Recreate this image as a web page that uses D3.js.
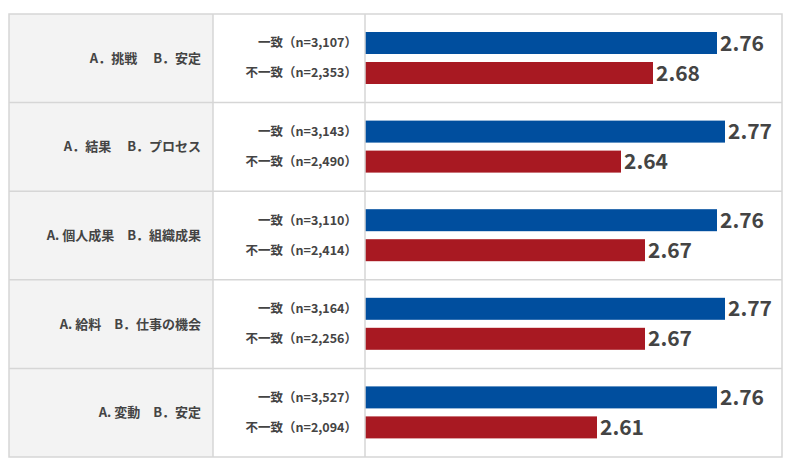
<!DOCTYPE html><html><head><meta charset="utf-8"><script src="https://cdn.jsdelivr.net/npm/d3@7"></script>
<style>body{margin:0;background:#fff}text{font-family:"Noto Sans CJK JP","Noto Sans",sans-serif}</style></head><body><svg id="c" width="790" height="474"></svg>
<script>
const categories=["A．挑戦　 B．安定","A．結果　 B．プロセス","A. 個人成果　B．組織成果","A. 給料　B．仕事の機会","A. 変動　B．安定"];
const matchLabels=["一致（n=3,107）","一致（n=3,143）","一致（n=3,110）","一致（n=3,164）","一致（n=3,527）"];
const mismatchLabels=["不一致（n=2,353）","不一致（n=2,490）","不一致（n=2,414）","不一致（n=2,256）","不一致（n=2,094）"];
const matchValues=[2.76,2.77,2.76,2.77,2.76];
const mismatchValues=[2.68,2.64,2.67,2.67,2.61];
const svg=d3.select("#c");
const L=9,R=782,T=14,B=457,c1=213,c2=365;
const y=d3.scaleBand().domain(d3.range(categories.length)).range([T,B]);
const x=d3.scaleLinear().domain([2.32,2.77]).range([c2,c2+360]);
svg.append("rect").attr("x",L).attr("y",T).attr("width",c1-L).attr("height",B-T).attr("fill","#f3f3f3");
const g=svg.append("g");
categories.forEach((c,i)=>{
  const y0=y(i),h=y.bandwidth();
  g.append("text").attr("x",c1-12).attr("y",y0+h/2).attr("dy","0.35em").attr("text-anchor","end").attr("font-size",13).attr("font-weight","bold").attr("fill","#444").text(c);
  [[matchLabels[i],matchValues[i],"#004e9e",18],[mismatchLabels[i],mismatchValues[i],"#a81922",48]].forEach(([lab,v,col,off])=>{
    const by=y0+off;
    g.append("text").attr("x",c2-8).attr("y",by+11).attr("dy","0.35em").attr("text-anchor","end").attr("font-size",12.5).attr("font-weight","bold").attr("fill","#444").text(lab);
    g.append("rect").attr("x",x(x.domain()[0])).attr("y",by).attr("width",x(v)-x(x.domain()[0])).attr("height",22).attr("fill",col);
    g.append("text").attr("x",x(v)+3).attr("y",by+11).attr("dy","0.36em").attr("font-size",21).attr("font-weight","bold").attr("fill","#444").text(v.toFixed(2));
  });
});
const ln="#d6d6d6";
categories.forEach((c,i)=>{ if(i>0) svg.append("line").attr("x1",L).attr("x2",R).attr("y1",y(i)).attr("y2",y(i)).attr("stroke",ln).attr("stroke-width",1.5);});
[c1,c2].forEach(xx=>svg.append("line").attr("x1",xx).attr("x2",xx).attr("y1",T).attr("y2",B).attr("stroke",ln).attr("stroke-width",1.5));
svg.append("rect").attr("x",L).attr("y",T).attr("width",R-L).attr("height",B-T).attr("fill","none").attr("stroke",ln).attr("stroke-width",1.5);
</script></body></html>
